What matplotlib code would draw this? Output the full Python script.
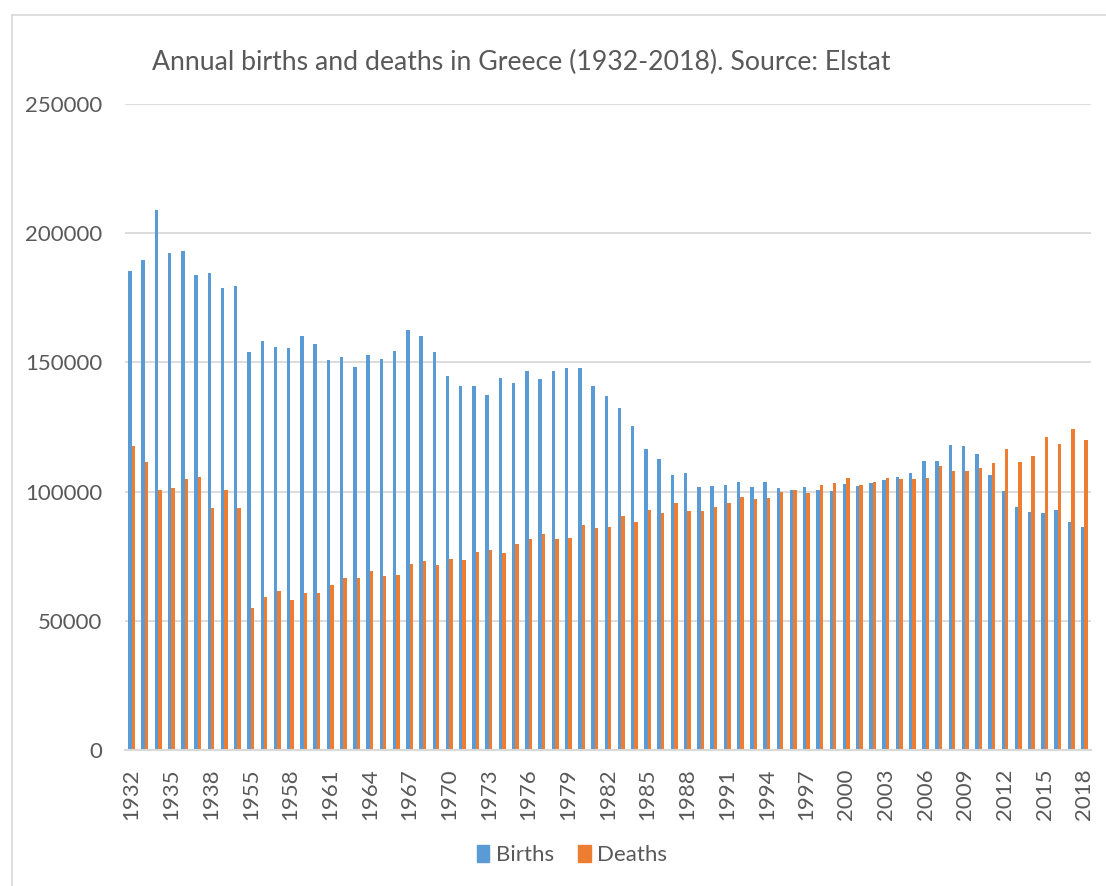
import numpy as np
import matplotlib
matplotlib.use('Agg')
import matplotlib.pyplot as plt
from matplotlib.lines import Line2D
from matplotlib.patches import Patch

plt.rcParams['font.family'] = ['Lato', 'DejaVu Sans']

years = list(range(1932, 1941)) + list(range(1955, 2019))

births = [185300, 189500, 208900, 192500, 193300, 183800, 184500, 178700, 179600,
          154100, 158300, 155800, 155400, 160200, 157100, 150800, 152200, 148200,
          153000, 151300, 154600, 162700, 160200, 154000, 144800, 141000, 140800,
          137400, 144000, 142100, 146600, 143600, 146600, 147900, 147900, 140800,
          137000, 132500, 125500, 116300, 112700, 106300, 107200, 101600, 102100,
          102500, 103900, 101700, 103600, 101300, 100700, 101800, 100700, 100400,
          103100, 102200, 103400, 104300, 105600, 107200, 111900, 111900, 118100,
          117700, 114600, 106300, 100300, 94000, 92000, 91600, 92800, 88400, 86400]

deaths = [117500, 111600, 100500, 101300, 105000, 105700, 93700, 100500, 93700,
          54800, 59300, 61500, 58000, 60800, 60600, 63900, 66500, 66700,
          69300, 67200, 67800, 71900, 73200, 71700, 74000, 73700, 76700,
          77500, 76200, 79900, 81700, 83700, 81600, 82200, 87100, 86100,
          86200, 90500, 88300, 92800, 91800, 95500, 92300, 92500, 94100,
          95400, 98100, 97300, 97700, 100000, 100700, 99600, 102600, 103200,
          105100, 102500, 103800, 105400, 104900, 104900, 105400, 109800, 107900,
          108100, 109000, 111000, 116500, 111600, 113600, 121000, 118600, 124400, 120100]

blue = '#5B9BD5'
orange = '#ED7D31'
text_color = '#595959'
grid_color = '#D9D9D9'

fig = plt.figure(figsize=(11.06, 8.86), dpi=100)
ax = fig.add_axes([125 / 1106, 1 - 750 / 886, 966 / 1106, 646 / 886])

x = np.arange(len(years))
w = 0.26
ax.bar(x - w / 2, births, width=w, color=blue, label='Births', zorder=3)
ax.bar(x + w / 2, deaths, width=w, color=orange, label='Deaths', zorder=3)

ax.set_xlim(-0.5, len(years) - 0.5)
ax.set_ylim(0, 250000)
ax.set_yticks(range(0, 250001, 50000))
ax.set_yticklabels([str(v) for v in range(0, 250001, 50000)])
ax.yaxis.grid(True, color=grid_color, linewidth=1.3, zorder=0)
ax.set_axisbelow(True)

ax.set_xticks(x[::3])
ax.set_xticklabels([str(y) for y in years[::3]], rotation=90)

for s in ['top', 'right', 'left']:
    ax.spines[s].set_visible(False)
ax.spines['bottom'].set_color(grid_color)
ax.spines['bottom'].set_linewidth(1.5)
ax.spines['bottom'].set_zorder(4)

ax.tick_params(axis='y', length=0, pad=16.5, labelsize=16, labelcolor=text_color)
ax.tick_params(axis='x', length=0, pad=13, labelsize=16, labelcolor=text_color)

fig.text(521 / 1106, 1 - 62 / 886, 'Annual births and deaths in Greece (1932-2018). Source: Elstat',
         ha='center', va='center', fontsize=19.2, color=text_color)

handles = [Patch(color=blue, label='Births'), Patch(color=orange, label='Deaths')]
fig.legend(handles=handles, loc='center', bbox_to_anchor=(572 / 1106, 1 - 855 / 886),
           ncol=2, frameon=False, fontsize=16, labelcolor=text_color,
           handlelength=0.55, handleheight=0.8, handletextpad=0.3, columnspacing=1.1)

# chart area border (left and top edges visible)
fig.add_artist(Line2D([12 / 1106, 12 / 1106], [0, 1 - 15 / 886], color=grid_color, linewidth=1.2))
fig.add_artist(Line2D([12 / 1106, 1], [1 - 15 / 886, 1 - 15 / 886], color=grid_color, linewidth=1.2))

plt.savefig('out.png', dpi=100)
